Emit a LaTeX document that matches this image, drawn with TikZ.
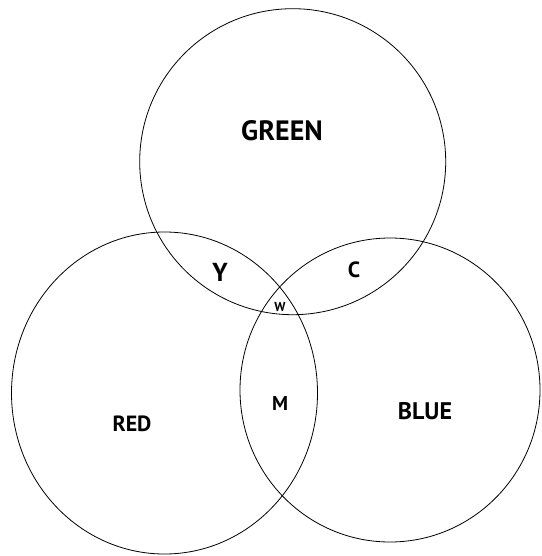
\documentclass[tikz,border=0pt]{standalone}
\usepackage{fontspec}
\setmainfont{PT Sans}
\begin{document}
\begin{tikzpicture}[x=1pt,y=-1pt,
  ring/.style={draw=black,line width=0.8pt},
  lbl/.style={font=\bfseries,inner sep=0pt}]
\useasboundingbox (0,0) rectangle (541,556);
\fill[white] (0,0) rectangle (541,556);
\draw[ring] (292.7,161.7) ellipse [x radius=153, y radius=153];
\draw[ring] (164.5,393) ellipse [x radius=153, y radius=161];
\draw[ring] (390,390) ellipse [x radius=150, y radius=152];
\node[lbl,font=\bfseries\fontsize{28}{30}\selectfont] (green) at (282,131) {GREEN};
\node[lbl,font=\bfseries\fontsize{22}{24}\selectfont] (red) at (132,424) {RED};
\node[lbl,font=\bfseries\fontsize{24}{26}\selectfont] (blue) at (425,411) {BLUE};
\node[lbl,font=\bfseries\fontsize{26}{28}\selectfont] (y) at (220,272) {Y};
\node[lbl,font=\bfseries\fontsize{22}{24}\selectfont] (c) at (354,270) {C};
\node[lbl,font=\bfseries\fontsize{20}{22}\selectfont] (m) at (280,403) {M};
\node[lbl,font=\bfseries\fontsize{13}{15}\selectfont] (w) at (280,307) {W};
\end{tikzpicture}
\end{document}
